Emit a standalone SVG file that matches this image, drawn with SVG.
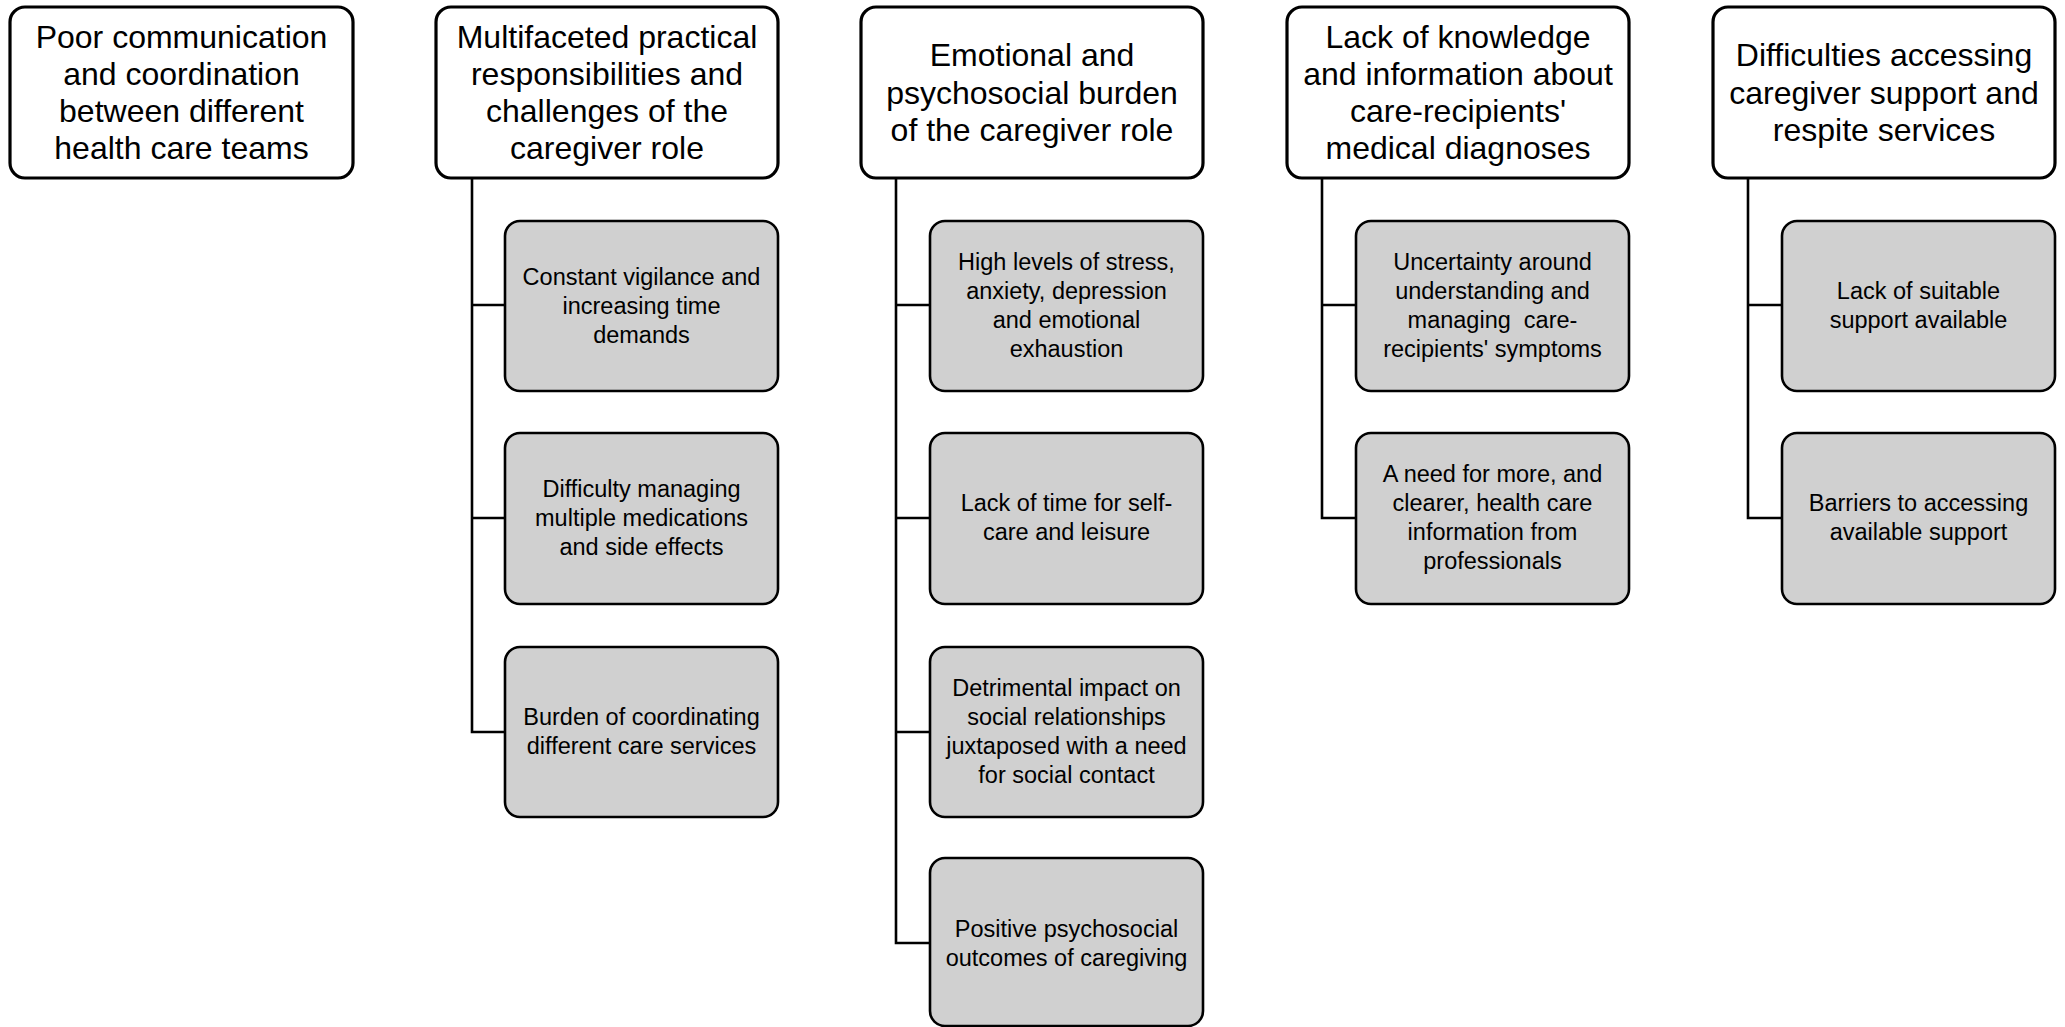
<svg xmlns="http://www.w3.org/2000/svg" width="2065" height="1027" viewBox="0 0 2065 1027">
<style>
.top{fill:#fff;stroke:#000;stroke-width:3.2}
.child{fill:#d0d0d0;stroke:#000;stroke-width:2.6}
.tt{font-family:"Liberation Sans",Arial,sans-serif;font-size:32px;fill:#000;text-anchor:middle}
.ct{font-family:"Liberation Sans",Arial,sans-serif;font-size:23.5px;fill:#000;text-anchor:middle}
.conn{fill:none;stroke:#000;stroke-width:2.6}
</style>
<rect width="2065" height="1027" fill="#fff"/>
<g id="connectors">
<path class="conn" d="M472 178 V305 H505 M472 305 V518 H505 M472 518 V732 H505"/>
<path class="conn" d="M896 178 V305 H930 M896 305 V518 H930 M896 518 V732 H930 M896 732 V943 H930"/>
<path class="conn" d="M1322 178 V305 H1356 M1322 305 V518 H1356"/>
<path class="conn" d="M1748 178 V305 H1782 M1748 305 V518 H1782"/>
</g>
<g id="n1"><rect class="top" x="10" y="7" width="343" height="171" rx="15"/>
<text class="tt"><tspan x="181.5" y="48">Poor communication</tspan><tspan x="181.5" y="85">and coordination</tspan><tspan x="181.5" y="122">between different</tspan><tspan x="181.5" y="159">health care teams</tspan></text></g>
<g id="n2"><rect class="top" x="436" y="7" width="342" height="171" rx="15"/>
<text class="tt"><tspan x="607" y="48">Multifaceted practical</tspan><tspan x="607" y="85">responsibilities and</tspan><tspan x="607" y="122">challenges of the</tspan><tspan x="607" y="159">caregiver role</tspan></text></g>
<g id="n2a"><rect class="child" x="505" y="221" width="273" height="170" rx="15"/>
<text class="ct"><tspan x="641.5" y="285">Constant vigilance and</tspan><tspan x="641.5" y="314">increasing time</tspan><tspan x="641.5" y="343">demands</tspan></text></g>
<g id="n2b"><rect class="child" x="505" y="433" width="273" height="171" rx="15"/>
<text class="ct"><tspan x="641.5" y="497">Difficulty managing</tspan><tspan x="641.5" y="526">multiple medications</tspan><tspan x="641.5" y="555">and side effects</tspan></text></g>
<g id="n2c"><rect class="child" x="505" y="647" width="273" height="170" rx="15"/>
<text class="ct"><tspan x="641.5" y="725">Burden of coordinating</tspan><tspan x="641.5" y="754">different care services</tspan></text></g>
<g id="n3"><rect class="top" x="861" y="7" width="342" height="171" rx="15"/>
<text class="tt"><tspan x="1032" y="66">Emotional and</tspan><tspan x="1032" y="104">psychosocial burden</tspan><tspan x="1032" y="141">of the caregiver role</tspan></text></g>
<g id="n3a"><rect class="child" x="930" y="221" width="273" height="170" rx="15"/>
<text class="ct"><tspan x="1066.5" y="270">High levels of stress,</tspan><tspan x="1066.5" y="299">anxiety, depression</tspan><tspan x="1066.5" y="328">and emotional</tspan><tspan x="1066.5" y="357">exhaustion</tspan></text></g>
<g id="n3b"><rect class="child" x="930" y="433" width="273" height="171" rx="15"/>
<text class="ct"><tspan x="1066.5" y="511">Lack of time for self-</tspan><tspan x="1066.5" y="540">care and leisure</tspan></text></g>
<g id="n3c"><rect class="child" x="930" y="647" width="273" height="170" rx="15"/>
<text class="ct"><tspan x="1066.5" y="696">Detrimental impact on</tspan><tspan x="1066.5" y="725">social relationships</tspan><tspan x="1066.5" y="754">juxtaposed with a need</tspan><tspan x="1066.5" y="783">for social contact</tspan></text></g>
<g id="n3d"><rect class="child" x="930" y="858" width="273" height="168" rx="15"/>
<text class="ct"><tspan x="1066.5" y="937">Positive psychosocial</tspan><tspan x="1066.5" y="966">outcomes of caregiving</tspan></text></g>
<g id="n4"><rect class="top" x="1287" y="7" width="342" height="171" rx="15"/>
<text class="tt"><tspan x="1458" y="48">Lack of knowledge</tspan><tspan x="1458" y="85">and information about</tspan><tspan x="1458" y="122">care-recipients'</tspan><tspan x="1458" y="159">medical diagnoses</tspan></text></g>
<g id="n4a"><rect class="child" x="1356" y="221" width="273" height="170" rx="15"/>
<text class="ct"><tspan x="1492.5" y="270">Uncertainty around</tspan><tspan x="1492.5" y="299">understanding and</tspan><tspan x="1492.5" y="328">managing&#160; care-</tspan><tspan x="1492.5" y="357">recipients' symptoms</tspan></text></g>
<g id="n4b"><rect class="child" x="1356" y="433" width="273" height="171" rx="15"/>
<text class="ct"><tspan x="1492.5" y="482">A need for more, and</tspan><tspan x="1492.5" y="511">clearer, health care</tspan><tspan x="1492.5" y="540">information from</tspan><tspan x="1492.5" y="569">professionals</tspan></text></g>
<g id="n5"><rect class="top" x="1713" y="7" width="342" height="171" rx="15"/>
<text class="tt"><tspan x="1884" y="66">Difficulties accessing</tspan><tspan x="1884" y="104">caregiver support and</tspan><tspan x="1884" y="141">respite services</tspan></text></g>
<g id="n5a"><rect class="child" x="1782" y="221" width="273" height="170" rx="15"/>
<text class="ct"><tspan x="1918.5" y="299">Lack of suitable</tspan><tspan x="1918.5" y="328">support available</tspan></text></g>
<g id="n5b"><rect class="child" x="1782" y="433" width="273" height="171" rx="15"/>
<text class="ct"><tspan x="1918.5" y="511">Barriers to accessing</tspan><tspan x="1918.5" y="540">available support</tspan></text></g>
</svg>
